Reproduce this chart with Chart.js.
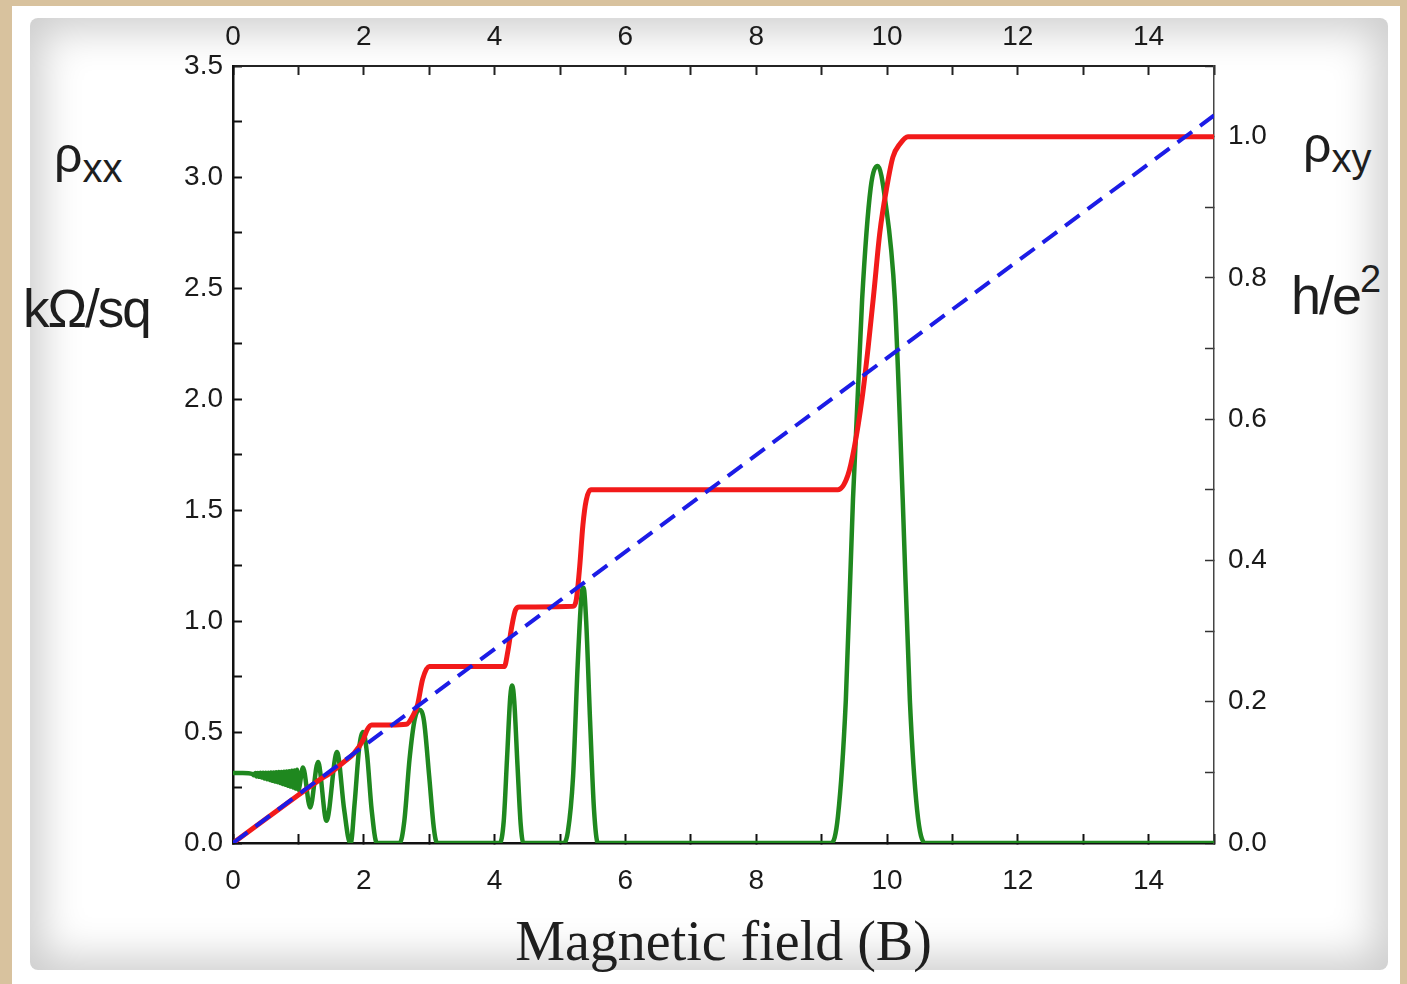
<!DOCTYPE html>
<html>
<head>
<meta charset="utf-8">
<title>Quantum Hall effect</title>
<script src="https://cdn.jsdelivr.net/npm/chart.js@4.4.0/dist/chart.umd.min.js"></script>
<style>
    html, body {
        margin: 0;
        padding: 0;
        width: 1407px;
        height: 984px;
        overflow: hidden;
        background: #d8c29e;
        font-family: 'Liberation Sans', Arial, sans-serif;
    }
    .frame {
        position: absolute;
        left: 12px;
        top: 6px;
        width: 1388px;
        height: 978px;
        background: #ffffff;
    }
    .paper {
        position: absolute;
        left: 30px;
        top: 18px;
        width: 1358px;
        height: 952px;
        background: #ffffff;
        border-radius: 8px;
        box-shadow: inset 0 0 42px 12px rgba(0, 0, 0, 0.2);
    }
    .chart-box {
        position: absolute;
        left: 0;
        top: 0;
        width: 1407px;
        height: 984px;
    }
    .unit {
        position: absolute;
        color: #1e1e1e;
        line-height: 1;
        white-space: nowrap;
    }
    .unit sub, .unit sup {
        line-height: 0;
    }
</style>
</head>
<body>
<div class="frame"></div>
<div class="paper"></div>

<div class="unit" style="left:54px; top:130px; font-size:50px;">ρ<sub style="font-size:40px; vertical-align:-10px;">xx</sub></div>
<div class="unit" style="left:23px; top:282px; font-size:53px; letter-spacing:-2px;">kΩ/sq</div>
<div class="unit" style="left:1303px; top:120px; font-size:50px;">ρ<sub style="font-size:40px; vertical-align:-10px;">xy</sub></div>
<div class="unit" style="left:1291px; top:268px; font-size:54px; letter-spacing:-2px;">h/e<sup style="font-size:38px; vertical-align:22px;">2</sup></div>

<div class="chart-box">
    <canvas id="hallChart"></canvas>
</div>

<script>
// Magnetic field ticks (top and bottom axes)
const fieldMin = 0;
const fieldMax = 15;

// rho_xx (kOhm/sq, left axis)
const rxxField = [
    0, 0.15, 0.3, 0.32, 0.34, 0.36, 0.38, 0.40, 0.42, 0.44, 0.46, 0.48,
    0.50, 0.52, 0.54, 0.56, 0.58, 0.60, 0.62, 0.64, 0.66, 0.68, 0.70,
    0.72, 0.74, 0.76, 0.78, 0.80, 0.82, 0.84, 0.86, 0.88, 0.90, 0.92,
    0.94, 0.96, 0.98, 1.00, 1.07, 1.18, 1.30, 1.43, 1.59, 1.70, 1.79,
    1.80, 1.86, 1.93, 1.99, 2.05, 2.12, 2.20, 2.55, 2.62, 2.70, 2.78,
    2.85, 2.92, 3.00, 3.07, 3.12, 4.08, 4.14, 4.19, 4.24, 4.27, 4.30,
    4.35, 4.40, 4.44, 5.05, 5.12, 5.20, 5.27, 5.33, 5.36, 5.40, 5.46,
    5.52, 5.58, 9.15, 9.25, 9.37, 9.48, 9.62, 9.75, 9.86, 9.97, 10.12,
    10.24, 10.35, 10.46, 10.58, 15
];
const rxxValues = [
    0.315, 0.315, 0.31, 0.305, 0.315, 0.30, 0.315, 0.298, 0.316, 0.295, 0.316, 0.29,
    0.317, 0.287, 0.317, 0.284, 0.318, 0.28, 0.318, 0.277, 0.319, 0.274, 0.32,
    0.27, 0.32, 0.266, 0.321, 0.262, 0.322, 0.258, 0.323, 0.254, 0.325, 0.25,
    0.327, 0.245, 0.33, 0.24, 0.34, 0.16, 0.365, 0.10, 0.41, 0.15, 0.0,
    0.0, 0.18, 0.43, 0.50, 0.40, 0.15, 0.0, 0.0, 0.10, 0.38, 0.56,
    0.60, 0.55, 0.30, 0.07, 0.0, 0.0, 0.10, 0.38, 0.66, 0.71, 0.64,
    0.35, 0.08, 0.0, 0.0, 0.05, 0.30, 0.80, 1.12, 1.15, 1.00, 0.55,
    0.15, 0.0, 0.0, 0.12, 0.64, 1.55, 2.45, 2.95, 3.05, 2.90, 2.45,
    1.55, 0.64, 0.15, 0.0, 0.0
];

// rho_xy (h/e^2, right axis)
const rxyField = [
    0, 0.5, 1.0, 1.3, 1.5, 1.7, 1.85, 1.99, 2.05, 2.12, 2.4, 2.65, 2.75,
    2.82, 2.90, 3.00, 4.15, 4.20, 4.26, 4.32, 4.38, 5.20, 5.25, 5.30,
    5.35, 5.40, 5.47, 9.25, 9.40, 9.50, 9.62, 9.71, 9.80, 9.89, 10.00,
    10.09, 10.20, 10.32, 15
];
const rxyValues = [
    0, 0.034, 0.068, 0.088, 0.10, 0.115, 0.127, 0.146, 0.16, 0.167, 0.167, 0.168, 0.18,
    0.195, 0.232, 0.25, 0.25, 0.27, 0.305, 0.33, 0.334, 0.335, 0.345, 0.39,
    0.45, 0.485, 0.50, 0.50, 0.52, 0.56, 0.63, 0.70, 0.78, 0.864, 0.93,
    0.971, 0.99, 1.0, 1.0
];

// classical Hall line (blue dashed, right axis)
const classicalField = [0, 15];
const classicalValues = [0, 1.03];

// axis ranges
const rxxMax = 3.5;
const rxyMax = 1.1;

const toPoints = (xs, ys) => xs.map((x, i) => ({ x: x, y: ys[i] }));

const tickFont = { family: "'Liberation Sans', Arial, sans-serif", size: 28 };
const tickColor = '#1a1a1a';

function fixSize(prop, size) {
    return (scale) => { scale[prop] = size; };
}

new Chart(document.getElementById('hallChart'), {
    type: 'line',
    data: {
        datasets: [
            {
                label: 'classical',
                data: toPoints(classicalField, classicalValues),
                yAxisID: 'yR',
                borderColor: '#1c1ce6',
                borderWidth: 4,
                borderDash: [18, 10],
                pointRadius: 0,
                order: 0
            },
            {
                label: 'rho_xy',
                data: toPoints(rxyField, rxyValues),
                yAxisID: 'yR',
                borderColor: '#f21a1a',
                borderWidth: 5,
                cubicInterpolationMode: 'monotone',
                pointRadius: 0,
                order: 1
            },
            {
                label: 'rho_xx',
                data: toPoints(rxxField, rxxValues),
                yAxisID: 'yL',
                borderColor: '#1f881f',
                borderWidth: 4.5,
                cubicInterpolationMode: 'monotone',
                pointRadius: 0,
                order: 2
            }
        ]
    },
    options: {
        responsive: true,
        maintainAspectRatio: false,
        animation: false,
        layout: { padding: 0 },
        plugins: {
            legend: { display: false },
            tooltip: { enabled: false }
        },
        scales: {
            x: {
                type: 'linear',
                position: 'bottom',
                min: fieldMin,
                max: fieldMax,
                afterFit: fixSize('height', 141),
                border: { color: '#111', width: 2.5 },
                grid: { drawOnChartArea: false, tickLength: -9, color: '#111', tickWidth: 2 },
                ticks: {
                    stepSize: 1,
                    padding: 30,
                    maxRotation: 0,
                    autoSkip: false,
                    font: tickFont,
                    color: tickColor,
                    callback: (v) => (v % 2 === 0 ? String(v) : '')
                },
                title: {
                    display: true,
                    text: 'Magnetic field (B)',
                    color: '#1e1e1e',
                    font: { family: "'Liberation Serif', 'Times New Roman', serif", size: 56, lineHeight: 1 },
                    padding: { top: 0, bottom: 11 }
                }
            },
            x2: {
                type: 'linear',
                position: 'top',
                min: fieldMin,
                max: fieldMax,
                afterFit: fixSize('height', 66),
                border: { color: '#222', width: 2 },
                grid: { drawOnChartArea: false, tickLength: -9, color: '#222', tickWidth: 2 },
                ticks: {
                    stepSize: 1,
                    padding: 21,
                    maxRotation: 0,
                    autoSkip: false,
                    font: tickFont,
                    color: tickColor,
                    callback: (v) => (v % 2 === 0 ? String(v) : '')
                }
            },
            yL: {
                type: 'linear',
                position: 'left',
                min: 0,
                max: rxxMax,
                afterFit: fixSize('width', 233),
                border: { color: '#111', width: 2.5 },
                grid: { drawOnChartArea: false, tickLength: -9, color: '#111', tickWidth: 2 },
                ticks: {
                    stepSize: 0.25,
                    padding: 19,
                    autoSkip: false,
                    font: tickFont,
                    color: tickColor,
                    callback: (v) => (Math.round(v * 4) % 2 === 0 ? v.toFixed(1) : '')
                }
            },
            yR: {
                type: 'linear',
                position: 'right',
                min: 0,
                max: rxyMax,
                afterFit: fixSize('width', 193),
                border: { color: '#444', width: 1.5 },
                grid: { drawOnChartArea: false, tickLength: -9, color: '#333', tickWidth: 1.5 },
                ticks: {
                    stepSize: 0.1,
                    padding: 23,
                    autoSkip: false,
                    font: tickFont,
                    color: tickColor,
                    callback: (v) => (Math.round(v * 10) % 2 === 0 && v < 1.05 ? v.toFixed(1) : '')
                }
            }
        }
    }
});
</script>
</body>
</html>
